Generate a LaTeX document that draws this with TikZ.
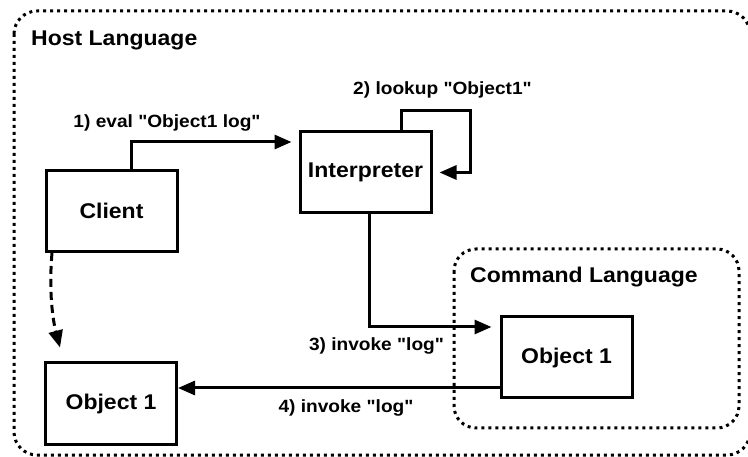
\documentclass[tikz,border=0pt]{standalone}
\usepackage{fontspec}
\setmainfont{Liberation Sans}[Ligatures=TeXOff, FakeStretch=1.08]
\usetikzlibrary{arrows.meta}
\begin{document}
\begin{tikzpicture}[x=1pt,y=-1pt,
  box/.style={draw, line width=3pt, minimum width=131pt, minimum height=81pt, inner sep=0pt,
    font=\fontsize{21.3}{24}\selectfont\bfseries},
  lbl/.style={font=\fontsize{17.7}{20}\selectfont\bfseries, inner sep=0pt},
  ttl/.style={font=\fontsize{21.3}{24}\selectfont\bfseries, inner sep=0pt, anchor=west},
  arr/.style={line width=3pt, -{Triangle[length=17pt,width=14pt]}},
  dasharr/.style={arr, dash pattern=on 8pt off 5pt},
  dotbox/.style={line width=3pt, dash pattern=on 3pt off 4pt, rounded corners=23pt},
]
\useasboundingbox (0,0) rectangle (748,457);
\draw[dotbox] (14,11) rectangle (750,455);
\draw[dotbox, rounded corners=22pt] (454,249) rectangle (739,428);

\node[ttl] (host) at (31,40) {Host Language};
\node[ttl] (cmd) at (470,277) {Command Language};

\node[box] (client) at (111.5,211) {Client};
\node[box] (interp) at (365.5,172.5) {Interpreter};
\node[box] (obj1L) at (111,403.5) {Object 1};
\node[box] (obj1R) at (566.5,357.5) {Object 1};

\node[lbl] (l1) at (167,123) {1) eval "Object1 log"};
\node[lbl] (l2) at (442.5,90) {2) lookup "Object1"};
\node[lbl] (l3) at (376.5,346) {3) invoke "log"};
\node[lbl] (l4) at (346,408) {4) invoke "log"};

\coordinate (lp) at (470,111);
\coordinate (a4) at ([yshift=-30.5pt]obj1R.west);
\coordinate (d2) at ([xshift=-51pt,yshift=14pt]obj1L.north);

\draw[arr, shorten >=7pt] ([xshift=19.5pt]client.north) |- ([yshift=30.5pt]interp.west);
\draw[arr, shorten >=7pt] ([xshift=35.5pt]interp.north) |- (lp) |- (interp.east);
\draw[arr, shorten >=8pt] ([xshift=3.5pt]interp.south) |- ([yshift=30.5pt]obj1R.west);
\draw[arr] (a4) -- (a4 -| obj1L.east);
\draw[dasharr] ([xshift=-59.5pt]client.south) .. controls +(-4,47) and +(-5,-19) .. (d2);
\end{tikzpicture}
\end{document}
